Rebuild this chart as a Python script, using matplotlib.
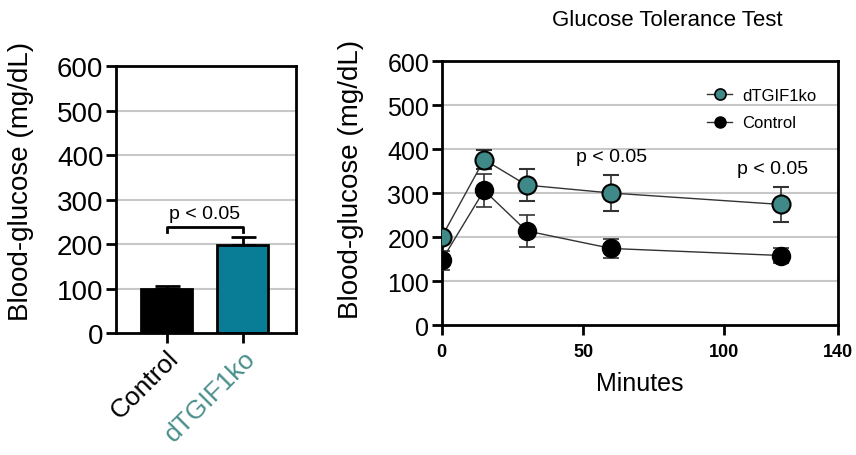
import matplotlib.pyplot as plt
import numpy as np
from matplotlib.lines import Line2D

plt.rcParams['font.family'] = ['Liberation Sans', 'DejaVu Sans']

# bar panel
groups = ['Control', 'dTGIF1ko']
bar_vals = [100, 197]
bar_err = [6, 18]

# time course
minutes = [0, 15, 30, 60, 120]
ctrl = [147, 306, 214, 174, 158]
ctrl_err = [22, 38, 37, 22, 18]
ko = [200, 376, 318, 300, 274]
ko_err = [8, 22, 36, 40, 40]

teal_bar = '#0a7d96'
teal_dot = '#3f8a88'
teal_txt = '#4a8f8d'
grid_c = '#c8c8c8'

fig = plt.figure(figsize=(8.56, 4.56), dpi=100)
ax1 = fig.add_axes([0.1355, 0.2675, 0.2103, 0.5855])
ax2 = fig.add_axes([0.516, 0.285, 0.4625, 0.579])

for ax in (ax1, ax2):
    for s in ax.spines.values():
        s.set_linewidth(2)
    ax.tick_params(direction='out', length=7, width=2, pad=2)
    ax.set_ylim(0, 600)
    ax.set_yticks(np.arange(0, 601, 100))
    for y in range(100, 600, 100):
        ax.axhline(y, color=grid_c, lw=1.5, zorder=0)

# left: bars
x = np.arange(2)
ax1.bar(x, bar_vals, 0.67, color=['black', teal_bar], edgecolor='black', linewidth=2, zorder=2)
ax1.errorbar(x, bar_vals, yerr=[[0, 0], bar_err], fmt='none', ecolor='black',
             elinewidth=2, capsize=9, capthick=2, zorder=1)
ax1.set_xlim(-0.667, 1.70)
ax1.set_xticks(x)
ax1.set_xticklabels(groups, rotation=45, ha='right', rotation_mode='anchor', fontsize=19)
ax1.get_xticklabels()[1].set_color(teal_txt)
ax1.tick_params(axis='y', labelsize=20)
ax1.set_ylabel('Blood-glucose (mg/dL)', fontsize=20)
ax1.yaxis.set_label_coords(-0.456, 0.57)
# significance bracket
ax1.plot([0, 0, 1, 1], [228, 238, 238, 228], color='black', lw=2)
ax1.text(0.5, 250, 'p < 0.05', ha='center', va='bottom', fontsize=14)

# right: time course
ax2.errorbar(minutes, ctrl, yerr=ctrl_err, fmt='-o', color='#333333', lw=1,
             mfc='black', mec='black', ms=13, ecolor='#333333', elinewidth=1.2,
             capsize=6, capthick=1.2, zorder=3)
ax2.errorbar(minutes, ko, yerr=ko_err, fmt='-o', color='#333333', lw=1,
             mfc=teal_dot, mec='black', mew=1.5, ms=13, ecolor='#333333', elinewidth=1.2,
             capsize=6, capthick=1.2, zorder=4)
ax2.set_xlim(0, 140)
ax2.set_xticks([0, 50, 100, 140])
for lab in ax2.get_xticklabels():
    lab.set_fontweight('bold')
ax2.tick_params(axis='x', labelsize=13, pad=6)
ax2.tick_params(axis='y', labelsize=18)
ax2.set_ylabel('Blood-glucose (mg/dL)', fontsize=20)
ax2.yaxis.set_label_coords(-0.195, 0.555)
ax2.set_xlabel('Minutes', fontsize=18, labelpad=8)
ax2.set_title('Glucose Tolerance Test', fontsize=16, pad=26, x=0.57)
ax2.text(60, 372, 'p < 0.05', ha='center', fontsize=14)
ax2.text(117, 346, 'p < 0.05', ha='center', fontsize=14)
handles = [Line2D([], [], color='#333333', lw=1, marker='o', ms=8, mfc=teal_dot, mec='black', mew=1.2),
           Line2D([], [], color='#333333', lw=1, marker='o', ms=8, mfc='black', mec='black')]
ax2.legend(handles, ['dTGIF1ko', 'Control'], loc='upper right', frameon=False, fontsize=12,
           bbox_to_anchor=(0.985, 0.955), handlelength=1.5, handletextpad=0.6, labelspacing=0.75)

fig.savefig('out.png', dpi=100)
